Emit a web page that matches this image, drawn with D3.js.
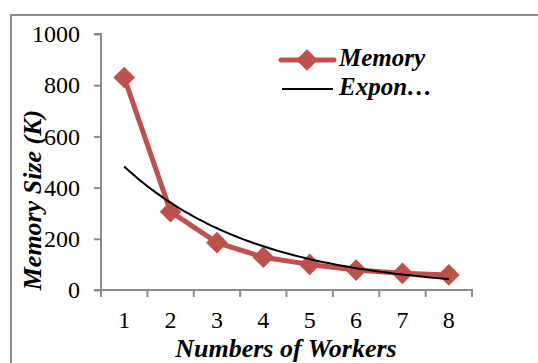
<!DOCTYPE html>
<html>
<head>
<meta charset="utf-8">
<script src="https://cdn.jsdelivr.net/npm/d3@7"></script>
<style>
body{margin:0;background:#fff;}
</style>
</head>
<body>
<div id="chart"></div>
<script>
const workers=["1","2","3","4","5","6","7","8"];
const memory=[830,306,185,128,100,78,65,59];
const yTicks=[0,200,400,600,800,1000];

const serif="'Liberation Serif', 'Times New Roman', Times, serif";
const opt={width:538,height:363,left:101,right:472,top:34,bottom:290}

const svg=d3.select("#chart")
  .append("svg")
  .attr("width",opt.width)
  .attr("height",opt.height)
  .attr("font-family",serif)

// chart frame (right/bottom edges clipped by the window)
svg.append("path")
  .attr("d","M11,"+opt.height+"V15H"+opt.width)
  .attr("fill","none")
  .attr("stroke","#8c8c8c")
  .attr("stroke-width",2)

const xScale=d3.scaleBand()
  .domain(workers)
  .range([opt.left,opt.right])

const yScale=d3.scaleLinear()
  .domain([0,1000])
  .range([opt.bottom,opt.top])

const cx=(d,i)=>xScale(workers[i])+xScale.bandwidth()/2;

// y axis
const yAxis=svg.append("g")
  .attr("transform","translate("+opt.left+",0)")
  .call(d3.axisLeft(yScale).tickValues(yTicks).tickFormat(d3.format("d")).tickSize(7).tickPadding(14))
  .attr("font-family",serif)
yAxis.selectAll("text").attr("font-size","24px").attr("fill","#000")

// x axis, ticks on band edges
const xAxis=svg.append("g")
  .attr("transform","translate(0,"+opt.bottom+")")
  .call(d3.axisBottom(xScale).tickSize(0).tickPadding(21))
  .attr("font-family",serif)
xAxis.selectAll("text").attr("font-size","24px").attr("fill","#000").attr("dy","0.71em")
xAxis.selectAll(".edge")
  .data(d3.range(workers.length+1))
  .enter()
  .append("line")
  .attr("class","edge")
  .attr("x1",(d)=>opt.left+d*xScale.bandwidth())
  .attr("x2",(d)=>opt.left+d*xScale.bandwidth())
  .attr("y1",0)
  .attr("y2",7)

svg.selectAll(".domain, .tick line, .edge")
  .attr("stroke","#8c8c8c")
  .attr("stroke-width",2)
yAxis.select(".domain").attr("d","M-7,"+opt.bottom+"H0V"+opt.top+"H-7")
xAxis.select(".domain").attr("d","M"+opt.left+",7V0H"+opt.right+"V7")

// exponential trendline (least squares on ln y)
const xs=memory.map((d,i)=>i+1);
const lys=memory.map((d)=>Math.log(d));
const mx=d3.mean(xs), my=d3.mean(lys);
const b=d3.sum(xs,(x,i)=>(x-mx)*(lys[i]-my))/d3.sum(xs,(x)=>(x-mx)*(x-mx));
const a=Math.exp(my-b*mx);
const trendX=d3.range(1,8.001,0.1);
const xLin=d3.scaleLinear().domain([1,8]).range([cx(0,0),cx(0,7)]);

// memory series
svg.append("path")
  .datum(memory)
  .attr("d",d3.line().x(cx).y((d)=>yScale(d)))
  .attr("fill","none")
  .attr("stroke","#c0504d")
  .attr("stroke-width",5)
  .attr("stroke-linejoin","round")

const diamond=d3.symbol().type(d3.symbolDiamond2).size(300);
svg.selectAll(".pt")
  .data(memory)
  .enter()
  .append("path")
  .attr("class","pt")
  .attr("d",diamond)
  .attr("transform",(d,i)=>"translate("+cx(d,i)+","+yScale(d)+")")
  .attr("fill","#c0504d")

svg.append("path")
  .datum(trendX)
  .attr("d",d3.line().x((x)=>xLin(x)).y((x)=>yScale(a*Math.exp(b*x))))
  .attr("fill","none")
  .attr("stroke","#000")
  .attr("stroke-width",2)

// axis titles
svg.append("text")
  .attr("transform","translate(41,200) rotate(-90)")
  .attr("text-anchor","middle")
  .attr("font-size","26px")
  .attr("font-weight","bold")
  .attr("font-style","italic")
  .text("Memory Size (K)")

svg.append("text")
  .attr("x",286)
  .attr("y",357)
  .attr("text-anchor","middle")
  .attr("font-size","26px")
  .attr("font-weight","bold")
  .attr("font-style","italic")
  .text("Numbers of Workers")

// legend
const legend=svg.append("g")
legend.append("line")
  .attr("x1",281).attr("x2",334).attr("y1",60).attr("y2",60)
  .attr("stroke","#c0504d").attr("stroke-width",5).attr("stroke-linecap","round")
legend.append("path")
  .attr("d",diamond)
  .attr("transform","translate(307,60)")
  .attr("fill","#c0504d")
legend.append("line")
  .attr("x1",282).attr("x2",333).attr("y1",89).attr("y2",89)
  .attr("stroke","#000").attr("stroke-width",2)
legend.selectAll("text")
  .data(["Memory","Expon…"])
  .enter()
  .append("text")
  .attr("x",339)
  .attr("y",(d,i)=>66+i*29)
  .attr("font-size","25px")
  .attr("font-weight","bold")
  .attr("font-style","italic")
  .text((d)=>d)
</script>
</body>
</html>
